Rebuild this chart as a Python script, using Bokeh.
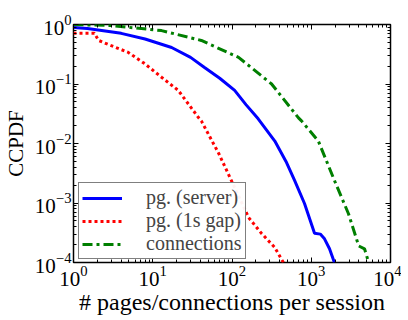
from bokeh.plotting import figure
from bokeh.models import LogAxis, Legend, LegendItem, FixedTicker
from bokeh.embed import file_html
from bokeh.resources import INLINE

# data
server_x = [1.0, 1.5, 4.0, 8.0, 17.3, 30, 45, 70, 108, 150, 214, 347, 480, 616, 822, 1100, 1300, 1470, 1700, 1960]
server_y = [0.89, 0.86, 0.71, 0.57, 0.41, 0.28, 0.19, 0.125, 0.078, 0.045, 0.026, 0.011, 0.0050, 0.0024, 0.00098, 0.00031, 0.00030, 0.00025, 0.00017, 0.0001]

gap_x = [1.0, 1.84, 2.07, 3.0, 4.9, 7.9, 12.9, 21, 38, 41, 68, 98, 162, 235, 345, 445]
gap_y = [0.71, 0.71, 0.54, 0.44, 0.34, 0.22, 0.13, 0.078, 0.027, 0.024, 0.0068, 0.0024, 0.00057, 0.00031, 0.00018, 0.0001]

conn_x = [1.0, 3.0, 12.9, 41, 121, 316, 690, 753, 1230, 1960, 2950, 3970, 4700, 5300]
conn_y = [1.0, 0.96, 0.79, 0.54, 0.28, 0.10, 0.027, 0.024, 0.011, 0.0024, 0.00066, 0.00019, 0.00017, 0.0001]

series_labels = ["pg. (server)", "pg. (1s gap)", "connections"]
major_ticks = [1e-4, 1e-3, 1e-2, 1e-1, 1, 10, 100, 1000, 1e4]

FONT = "Liberation Serif"

p = figure(frame_width=317, frame_height=238, x_axis_type="log", y_axis_type="log",
           x_range=(1, 1e4), y_range=(1e-4, 1),
           output_backend="svg", toolbar_location=None,
           min_border_left=64, min_border_right=11, min_border_top=24, min_border_bottom=42)
p.grid.visible = False
p.outline_line_color = "black"
p.outline_line_width = 1.5

r1 = p.line(server_x, server_y, line_color="#0000ff", line_width=3)
r2 = p.line(gap_x, gap_y, line_color="#ff0000", line_width=3, line_dash="3 3")
r3 = p.line(conn_x, conn_y, line_color="#007f00", line_width=3, line_dash="10 4 3 4")

minor = [m * 10 ** e for e in range(-4, 4) for m in range(2, 10)]

for ax in [p.xaxis[0], p.yaxis[0]]:
    ax.major_label_text_font = FONT
    ax.major_label_text_font_size = "21px"
    ax.major_label_text_color = "black"
    ax.axis_label_text_font = FONT
    ax.axis_label_text_font_style = "normal"
    ax.axis_label_text_color = "black"
    ax.major_tick_in = 5
    ax.major_tick_out = 0
    ax.minor_tick_in = 3
    ax.minor_tick_out = 0
    ax.axis_line_color = None
    ax.ticker = FixedTicker(ticks=major_ticks, minor_ticks=minor)
p.xaxis[0].axis_label = "# pages/connections per session"
p.xaxis[0].axis_label_text_font_size = "24px"
p.yaxis[0].axis_label = "CCPDF"
p.yaxis[0].axis_label_text_font_size = "21px"
p.xaxis[0].major_label_standoff = 3
p.xaxis[0].axis_label_standoff = 0
p.yaxis[0].major_label_standoff = 2
p.yaxis[0].axis_label_standoff = 4

for loc in ["above", "right"]:
    ax = LogAxis(major_label_text_color=None, major_label_text_font_size="1px",
                 major_label_standoff=0, major_tick_in=5, major_tick_out=0,
                 minor_tick_in=3, minor_tick_out=0, axis_line_color=None,
                 ticker=FixedTicker(ticks=major_ticks, minor_ticks=minor))
    p.add_layout(ax, loc)

legend = Legend(items=[LegendItem(label=series_labels[0], renderers=[r1]),
                       LegendItem(label=series_labels[1], renderers=[r2]),
                       LegendItem(label=series_labels[2], renderers=[r3])],
                location=(5, 3), label_text_font=FONT, label_text_font_size="20px",
                border_line_color="black", border_line_width=1.5,
                glyph_width=40, label_standoff=24, spacing=0, padding=3, margin=0,
                label_height=22, label_text_baseline="middle")
p.add_layout(legend, "center")

open("out.html", "w").write(file_html(p, INLINE))
